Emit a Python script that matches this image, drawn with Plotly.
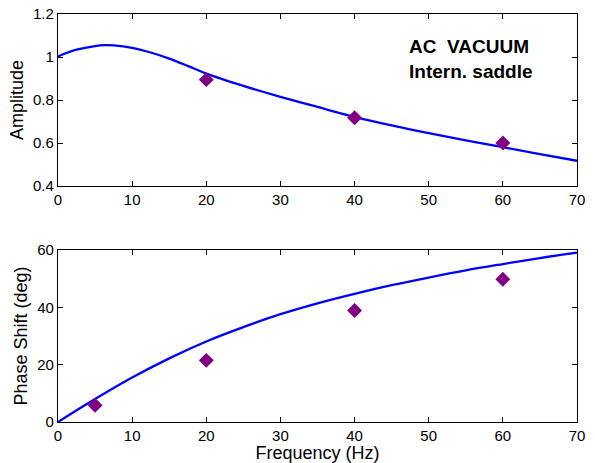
import plotly.graph_objects as go
from plotly.subplots import make_subplots

# Amplitude curve
amp_curve_f = [0, 2.5, 5, 6.3, 7.5, 10, 12.5, 15, 17.5, 20, 25, 30, 35, 40, 45, 50, 55, 60, 65, 70]
amp_curve_v = [1.003, 1.034, 1.051, 1.055, 1.054, 1.043, 1.021, 0.993, 0.959, 0.923, 0.866, 0.815, 0.768, 0.722, 0.682, 0.646, 0.613, 0.581, 0.549, 0.518]
amp_meas_f = [20, 40, 60]
amp_meas_v = [0.895, 0.718, 0.601]

# Phase curve
ph_curve_f = [0, 5, 10, 15, 20, 25, 30, 35, 40, 45, 50, 55, 60, 65, 70]
ph_curve_v = [0, 8.0, 15.5, 22.2, 28.1, 33.1, 37.6, 41.4, 44.7, 47.7, 50.4, 52.9, 55.1, 57.2, 59.1]
ph_meas_f = [5, 20, 40, 60]
ph_meas_v = [5.8, 21.5, 38.9, 49.8]

fig = make_subplots(rows=2, cols=1, vertical_spacing=0.0)

blue = "rgb(0,0,255)"
purple = "rgb(128,0,128)"
FONT = "Liberation Sans, Arial, sans-serif"

fig.add_trace(go.Scatter(x=amp_curve_f, y=amp_curve_v, mode="lines", line=dict(color=blue, width=2.3, shape="spline"), showlegend=False), row=1, col=1)
fig.add_trace(go.Scatter(x=amp_meas_f, y=amp_meas_v, mode="markers", marker=dict(symbol="diamond", color=purple, size=11.5, line=dict(width=0)), showlegend=False), row=1, col=1)
fig.add_trace(go.Scatter(x=ph_curve_f, y=ph_curve_v, mode="lines", line=dict(color=blue, width=2.3, shape="spline"), showlegend=False), row=2, col=1)
fig.add_trace(go.Scatter(x=ph_meas_f, y=ph_meas_v, mode="markers", marker=dict(symbol="diamond", color=purple, size=11.5, line=dict(width=0)), showlegend=False), row=2, col=1)

axis_common = dict(showline=True, linecolor="black", linewidth=1.2, mirror="ticks", ticks="inside",
                   ticklen=5, tickcolor="black", tickwidth=1, showgrid=False, zeroline=False, automargin=False,
                   tickfont=dict(family=FONT, size=15, color="black"))

title_font = dict(family=FONT, size=18, color="black")

fig.update_xaxes(range=[0, 70], dtick=10, **axis_common)
fig.update_yaxes(**axis_common)
fig.update_yaxes(range=[0.4, 1.2], dtick=0.2, tickformat="~g", title=dict(text="Amplitude", font=title_font, standoff=4), domain=[0.578, 1.0], row=1, col=1)
fig.update_yaxes(range=[0, 60], dtick=20, title=dict(text="Phase Shift (deg)", font=title_font, standoff=4), domain=[0.0, 0.4216], row=2, col=1)
fig.update_xaxes(title=dict(text="Frequency (Hz)", font=title_font, standoff=3), row=2, col=1)

fig.add_annotation(xref="x", yref="y", x=47.1, y=0.99, text="<b>AC  VACUUM<br>Intern. saddle</b>", showarrow=False,
                   align="left", xanchor="left", yanchor="middle", font=dict(family=FONT, size=19, color="black"))

fig.update_layout(width=595, height=463, margin=dict(l=58, r=18, t=14, b=41),
                  plot_bgcolor="white", paper_bgcolor="white", template="none")

fig.write_html("out.html")
